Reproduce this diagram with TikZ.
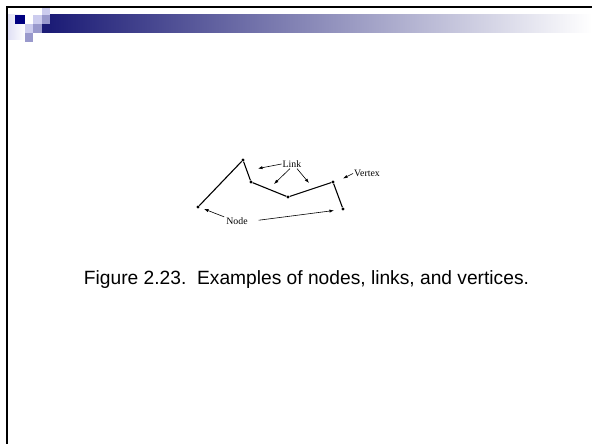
\documentclass[tikz,border=0pt]{standalone}
\usepackage{fontspec}
\setmainfont{Liberation Serif}
\newfontfamily\capfont{Liberation Sans}
\usepackage{tikz}
\usetikzlibrary{arrows.meta,positioning,calc}
\definecolor{navy}{RGB}{0,0,128}
\definecolor{barnavy}{RGB}{28,28,118}
\definecolor{lilac}{RGB}{204,204,238}
\definecolor{midlilac}{RGB}{153,153,204}
\tikzset{
    vtx/.style={circle,fill,inner sep=0pt,minimum size=3.2pt},
    lbl/.style={inner sep=1pt,font=\fontsize{9.8}{10}\selectfont},
    link/.style={line width=1.1pt},
    arrow/.style={-{Latex[length=4.5pt,width=3.2pt]},line width=0.6pt}
}

\begin{document}
\begin{tikzpicture}[x=1pt,y=-1pt]
    \useasboundingbox (0,0) rectangle (592,444);
    % slide header
    \shade[left color=lilac!60,right color=white] (8,15) rectangle (25,40);
    \shade[left color=barnavy,right color=white] (50,15) rectangle (592,33);
    \fill[navy] (15,15) rectangle (25,24);
    \fill[lilac] (33,15) rectangle (42,24);
    \fill[lilac] (42,8) rectangle (50,15);
    \fill[midlilac] (42,15) rectangle (50,24);
    \fill[lilac] (25,24) rectangle (33,33);
    \fill[midlilac] (33,24) rectangle (42,33);
    \fill[barnavy] (42,24) rectangle (50,33);
    \fill[midlilac] (25,33) rectangle (33,42);
    \draw[line width=2pt] (592,7) -- (7,7) -- (7,444);

    % the path
    \node[vtx] (n1) at (198,207) {};
    \node[vtx] (n2) at (243,160) {};
    \node[vtx] (n3) at (251,182) {};
    \node[vtx] (n4) at (288,197) {};
    \node[vtx] (n5) at (333,182) {};
    \node[vtx] (n6) at (343,209) {};
    \draw[link] (n1)--(n2)--(n3)--(n4)--(n5)--(n6);

    % labels
    \node[lbl] (linklbl) at (292,164) {Link};
    \node[lbl] (vertexlbl) at (367,173.5) {Vertex};
    \node[lbl] (nodelbl) at (237,221.5) {Node};
    \coordinate (l1) at (258,168.5);
    \coordinate (l2) at (274,184);
    \coordinate (l3) at (309,183);
    \coordinate (v1) at (343,178.5);
    \coordinate (d1) at (204,209);
    \coordinate (d2) at (334,210.5);
    \draw[arrow] (linklbl.west)--(l1);
    \draw[arrow] ([xshift=-2pt]linklbl.south)--(l2);
    \draw[arrow] ([xshift=5pt]linklbl.south)--(l3);
    \draw[arrow] (vertexlbl.west)--(v1);
    \draw[arrow] ([xshift=-1pt]nodelbl.north west)--(d1);
    \draw[arrow,shorten <=10pt] (nodelbl.east)--(d2);

    % caption
    \node[font=\capfont\fontsize{19.2}{22}\selectfont,anchor=base] (caption) at (306.5,284.3)
        {Figure 2.23.\ \ Examples of nodes, links, and vertices.};
\end{tikzpicture}
\end{document}
